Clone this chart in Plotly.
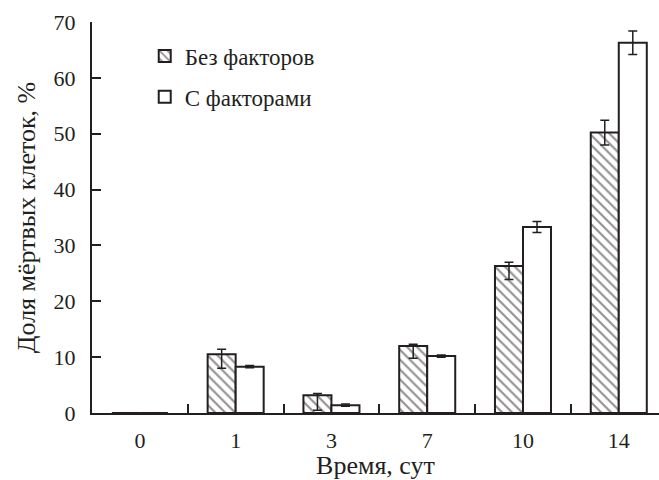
import plotly.graph_objects as go

categories = ["0", "1", "3", "7", "10", "14"]
without_factors = [0, 10.5, 3.2, 12.0, 26.3, 50.2]
without_err_plus = [0, 0.9, 0.3, 0.3, 0.7, 2.2]
without_err_minus = [0, 2.5, 2.7, 2.2, 2.4, 2.2]
with_factors = [0, 8.3, 1.4, 10.2, 33.3, 66.3]
with_err = [0, 0.2, 0.2, 0.2, 1.0, 2.1]

series_names = ["Без факторов", "С факторами"]
x_title = "Время, сут"
y_title = "Доля мёртвых клеток, %"
y_ticks = [0, 10, 20, 30, 40, 50, 60, 70]

INK = "#231f20"
FONT = "Liberation Serif"

fig = go.Figure()
fig.add_trace(go.Bar(
    x=categories, y=without_factors, name=series_names[0],
    marker=dict(color="white", line=dict(color=INK, width=2),
                pattern=dict(shape="\\", fgcolor=INK, bgcolor="white", size=7, solidity=0.3)),
    error_y=dict(type="data", symmetric=False, array=without_err_plus,
                 arrayminus=without_err_minus, color=INK, thickness=1.5, width=4.5),
    legendgroup="a",
))
fig.add_trace(go.Bar(
    x=categories, y=with_factors, name=series_names[1],
    marker=dict(color="white", line=dict(color=INK, width=2)),
    error_y=dict(type="data", array=with_err, color=INK, thickness=1.5, width=4.5),
    legendgroup="b",
))

fig.update_layout(
    width=659, height=480,
    margin=dict(l=92, r=0, t=22, b=67),
    paper_bgcolor="white", plot_bgcolor="white",
    font=dict(family=FONT, size=22, color=INK),
    barmode="group", bargap=0.415, bargroupgap=0,
    showlegend=True,
    legend=dict(x=0.093, y=0.968, xanchor="left", yanchor="top",
                bgcolor="rgba(0,0,0,0)", tracegroupgap=8,
                font=dict(family=FONT, size=23, color=INK)),
    xaxis=dict(
        type="category", range=[-0.5, 5.42], automargin=False,
        showline=True, linecolor=INK, linewidth=2,
        ticks="inside", tickson="boundaries", ticklen=9, tickwidth=2, tickcolor=INK,
        ticklabelstandoff=7,
        showgrid=False, zeroline=False,
        title=dict(text=x_title, standoff=6),
    ),
    yaxis=dict(
        range=[0, 70], tickvals=y_ticks, automargin=False,
        showline=True, linecolor=INK, linewidth=2,
        ticks="inside", ticklen=9, tickwidth=2, tickcolor=INK,
        ticklabelstandoff=10,
        showgrid=False, zeroline=False,
        title=dict(text=y_title, standoff=10),
    ),
)

fig.write_html("out.html")
